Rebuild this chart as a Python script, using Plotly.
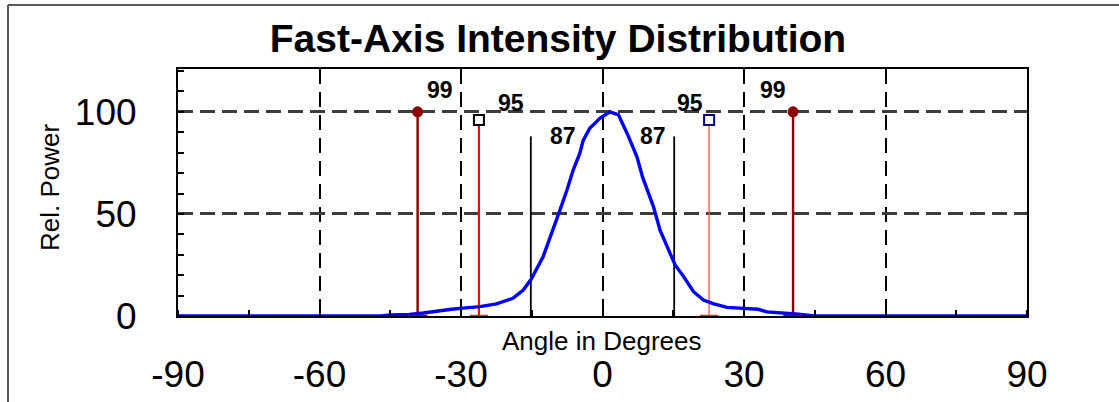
import plotly.graph_objects as go

# Measured fast-axis far-field profile (angle in degrees, relative power in %)
angle = [-90, -47, -45, -41, -38, -35, -32, -29, -26, -22.5, -19, -16.8, -15.1,
         -12.6, -10.5, -9, -7.5, -6.2, -4.8, -4.1, -2.7, -0.5, 1.6, 3.4, 5.5,
         7.3, 8.5, 9.4, 10.8, 12.2, 13.7, 15.4, 17.2, 19.3, 21.4, 23.6, 26.4,
         30.7, 33, 34.9, 37.8, 41, 44, 45, 90]
power = [0, 0, 0.5, 0.8, 1.5, 2.5, 3.3, 4, 4.6, 5.9, 8.7, 12.7, 18.1,
         29, 42, 52, 62, 71.6, 79.8, 86, 92, 97, 100, 98.5, 88,
         78, 68, 62, 53.6, 42, 34, 25, 19.3, 11.9, 7.8, 5.9, 4.2,
         3.6, 3.3, 2.0, 1.6, 1.0, 0.3, 0, 0]

# Enclosed-power markers: angle positions, marker heights and enclosed percentage
w99_angle = [-39.2, 40.4]
w99_height = [100, 100]
w99_label = ["99", "99"]

w95_angle = [-26.2, 22.6]
w95_height = [96, 96]
w95_label = ["95", "95"]

w87_angle = [-15.2, 15.2]
w87_height = [88, 88]
w87_label = ["87", "87"]

x_ticks = [-90, -60, -30, 0, 30, 60, 90]
y_ticks = [0, 50, 100]

FONT = "Liberation Sans, Arial, sans-serif"
W, H = 1119, 402
ML, MR, MT, MB = 178, 92, 69, 86
PW, PH = W - ML - MR, H - MT - MB


def paper(px, py):
    """Pixel position in the page to paper coordinates."""
    return (px - ML) / PW, (H - MB - py) / PH


def stems(xs, hs):
    sx, sy = [], []
    for x, h in zip(xs, hs):
        sx += [x, x, None]
        sy += [0, h, None]
    return sx, sy


fig = go.Figure()

# vertical stems
for xs, hs, color, width in [
    ([w87_angle[0]], [w87_height[0]], "black", 1.8),
    ([w87_angle[1]], [w87_height[1]], "black", 1.8),
    ([w95_angle[0]], [w95_height[0]], "#ff0000", 2.2),
    ([w95_angle[1]], [w95_height[1]], "#ff4a4a", 1.3),
    (w99_angle, w99_height, "#8b0000", 2.4),
]:
    sx, sy = stems(xs, hs)
    fig.add_trace(go.Scatter(x=sx, y=sy, mode="lines",
                             line=dict(color=color, width=width),
                             hoverinfo="skip", showlegend=False))

# intensity profile
fig.add_trace(go.Scatter(x=angle, y=power, mode="lines",
                         line=dict(color="#0000ff", width=3.4),
                         showlegend=False))

# base caps of the coloured stems
fig.add_trace(go.Scatter(x=w95_angle, y=[0, 0], mode="markers",
                         marker=dict(symbol="line-ew", size=13,
                                     line=dict(color="#ff2020", width=2.5)),
                         cliponaxis=False, showlegend=False, hoverinfo="skip"))
fig.add_trace(go.Scatter(x=w99_angle, y=[0, 0], mode="markers",
                         marker=dict(symbol="line-ew", size=14,
                                     line=dict(color="#8b0000", width=2.5)),
                         cliponaxis=False, showlegend=False, hoverinfo="skip"))

# stem heads
fig.add_trace(go.Scatter(x=w99_angle, y=w99_height, mode="markers",
                         marker=dict(symbol="circle", size=11, color="#8b0000"),
                         cliponaxis=False, showlegend=False))
fig.add_trace(go.Scatter(x=w95_angle, y=w95_height, mode="markers",
                         marker=dict(symbol="square", size=10, color="white",
                                     line=dict(color=["black", "#000080"], width=2)),
                         cliponaxis=False, showlegend=False))

# value labels next to each stem (pixel offsets)
label_offsets = {
    "99": [(22, 22), (-20, 22)],
    "95": [(32, 17), (-19, 17)],
    "87": [(32, 0), (-21, 0)],
}
for xs, hs, labels in [(w99_angle, w99_height, w99_label),
                       (w95_angle, w95_height, w95_label),
                       (w87_angle, w87_height, w87_label)]:
    for i, (x, h, t) in enumerate(zip(xs, hs, labels)):
        dx, dy = label_offsets[t][i]
        fig.add_annotation(x=x, y=h, text=t, showarrow=False,
                           xshift=dx, yshift=dy,
                           font=dict(family=FONT, size=23, color="black", weight="bold"))

# axis captions
ax, ay = paper(601, 341)
fig.add_annotation(x=ax, y=ay, xref="paper", yref="paper", text="Angle in Degrees",
                   showarrow=False, xanchor="center", yanchor="middle",
                   font=dict(family=FONT, size=26, color="black"))
rx, ry = paper(50, 188)
fig.add_annotation(x=rx, y=ry, xref="paper", yref="paper", text="Rel. Power",
                   showarrow=False, textangle=-90, xanchor="center", yanchor="middle",
                   font=dict(family=FONT, size=26, color="black"))

# outer frame (left and top edges)
x0, y0 = paper(8, 5)
_, y1 = paper(8, H + 5)
x1, _ = paper(W + 5, 5)
fig.add_shape(type="line", xref="paper", yref="paper", x0=x0, y0=y0, x1=x0, y1=y1,
              line=dict(color="#5a5a5a", width=2))
fig.add_shape(type="line", xref="paper", yref="paper", x0=x0, y0=y0, x1=x1, y1=y0,
              line=dict(color="#5a5a5a", width=2))

fig.update_layout(
    width=W, height=H,
    margin=dict(l=ML, r=MR, t=MT, b=MB, pad=0, autoexpand=False),
    paper_bgcolor="white", plot_bgcolor="white",
    title=dict(text="Fast-Axis Intensity Distribution", x=558 / W, xanchor="center",
               y=1 - 38 / H, yanchor="middle", xref="container", yref="container",
               font=dict(family=FONT, size=39, color="black", weight="bold")),
    showlegend=False,
)
fig.update_xaxes(
    range=[-90, 90], tickvals=x_ticks, ticktext=[str(v) for v in x_ticks],
    showgrid=True, gridcolor="black", gridwidth=2, griddash="15px,8px",
    zeroline=False, showline=True, linecolor="black", linewidth=2, mirror=True,
    ticks="", ticklabelstandoff=25, automargin=False,
    tickfont=dict(family=FONT, size=37, color="black"),
    minor=dict(dtick=15, ticks="inside", ticklen=6, tickcolor="black", tickwidth=1.5,
               showgrid=False),
)
fig.update_yaxes(
    range=[0, 121], tickvals=y_ticks, ticktext=[str(v) for v in y_ticks],
    showgrid=True, gridcolor="#3c3c3c", gridwidth=3, griddash="15px,7px",
    zeroline=False, showline=True, linecolor="black", linewidth=2, mirror=True,
    ticks="", ticklabelstandoff=32, automargin=False,
    tickfont=dict(family=FONT, size=37, color="black"),
    minor=dict(dtick=10, ticks="inside", ticklen=6, tickcolor="black", tickwidth=1.5,
               showgrid=False),
)

fig.write_html("out.html")
